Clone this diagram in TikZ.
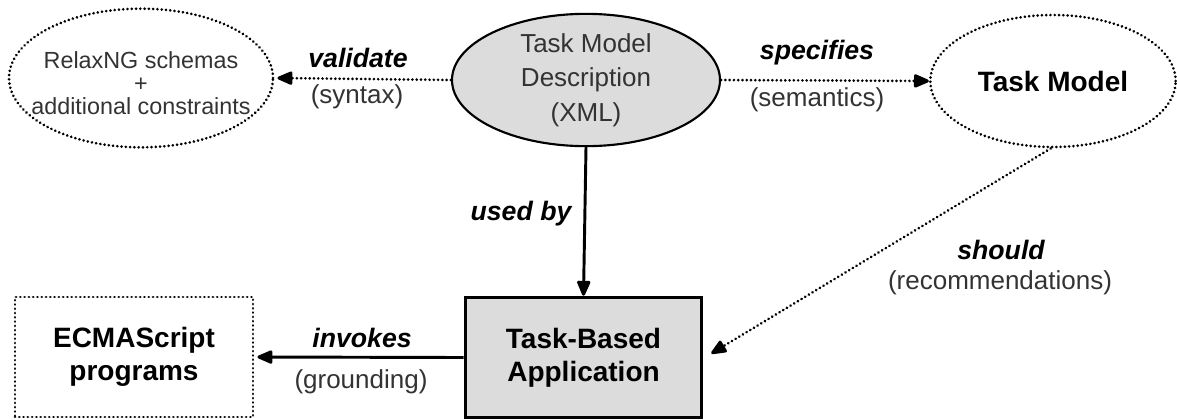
\documentclass[tikz,border=0pt]{standalone}
\usepackage{fontspec}
\setmainfont{Liberation Sans}
\usetikzlibrary{shapes.geometric,arrows.meta,calc}
\definecolor{boxgray}{HTML}{DCDCDC}
\definecolor{txtgray}{HTML}{333333}
\begin{document}
\begin{tikzpicture}[x=0.75pt,y=-0.75pt,
  dotline/.style={line width=2.2pt,line cap=round,dash pattern=on 0.01pt off 3.2pt},
  tip/.style={-{Triangle[length=13pt,width=10.5pt,round=false]}},
  bigbold/.style={font=\fontsize{21}{25}\selectfont\bfseries,align=center},
  lblb/.style={font=\fontsize{20}{24}\selectfont\bfseries\itshape,inner sep=0pt},
  lbln/.style={font=\fontsize{19.5}{24}\selectfont,text=txtgray,inner sep=0pt}]
\useasboundingbox (0,0) rectangle (1177,419);
\fill[white] (0,0) rectangle (1177,419);
% nodes
\node[ellipse,draw,dotline,minimum width=198pt,minimum height=104pt,inner sep=0pt]
  (RX) at (141,78) {};
\node[align=center,text=txtgray,inner sep=0pt,font=\fontsize{17.5}{20}\selectfont]
  (RXt) at ($(RX.center)+(0,5)$) {RelaxNG schemas\\[-3pt]+\\[-3pt]additional constraints};
\node[ellipse,draw,line width=1.6pt,fill=boxgray,minimum width=201pt,minimum height=94pt,
  inner sep=0pt,align=center,text=txtgray,font=\fontsize{19.5}{26}\selectfont]
  (TMD) at (586,80) {Task Model\\Description\\(XML)};
\node[ellipse,draw,dotline,minimum width=184pt,minimum height=99pt,inner sep=0pt,bigbold]
  (TM) at (1053,81) {Task Model};
\node[rectangle,draw,dotline,minimum width=178.5pt,minimum height=90pt,inner sep=0pt,bigbold]
  (EC) at (134,357) {ECMAScript\\programs};
\node[rectangle,draw,line width=2.2pt,fill=boxgray,minimum width=177.5pt,minimum height=90.5pt,
  inner sep=0pt,bigbold] (TB) at (583.5,357.5) {Task-Based\\Application};
% connectors
\draw[dotline,tip] (TMD.west) -- ($(RX.east)+(3,0)$);
\draw[dotline,tip] (TMD.east) -- (TM.west);
\draw[line width=2.2pt,tip] (TMD.south) -- (TB.north);
\draw[line width=2.2pt,tip] (TB.west) -- ($(EC.east)+(3,0)$);
\draw[dotline,tip] (TM.-92) -- ($(TB.east)+(8,-4)$);
% labels
\node[lblb] (lv) at (358,58) {validate};
\node[lbln] (ls) at (357,97) {(syntax)};
\node[lblb] (lsp) at (817,53) {specifies};
\node[lbln] (lse) at (817,100) {(semantics)};
\node[lblb] (lu) at (521,214) {used by};
\node[lblb] (lsh) at (1001,250) {should};
\node[lbln] (lre) at (1000,283) {(recommendations)};
\node[lblb] (li) at (362,338) {invokes};
\node[lbln] (lg) at (361,382) {(grounding)};
\end{tikzpicture}
\end{document}
